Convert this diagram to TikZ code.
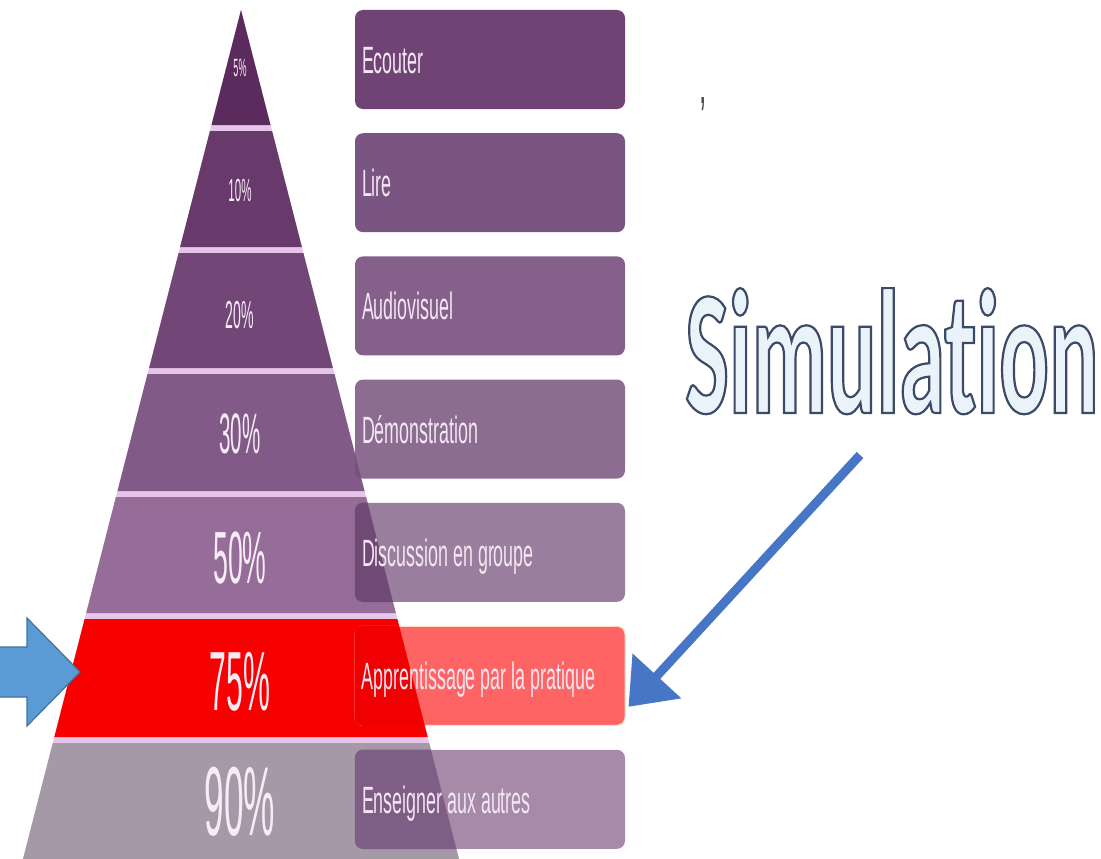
\documentclass[tikz,border=0pt]{standalone}
\usepackage{fontspec}
\usepackage{xcolor}
\usepackage{tikz}
\usetikzlibrary{arrows.meta,positioning,calc}
\newfontfamily\labelfont[FakeStretch=0.47]{Liberation Sans}
\newfontfamily\pctfont[FakeStretch=0.36]{Liberation Sans}
\newfontfamily\simfont[FakeStretch=0.52,Ligatures=NoCommon]{Carlito Bold}
\definecolor{gapline}{HTML}{E7C5E9}
\definecolor{band1}{HTML}{5B2B5E}
\definecolor{band2}{HTML}{683A6B}
\definecolor{band3}{HTML}{734678}
\definecolor{band4}{HTML}{825A88}
\definecolor{band5}{HTML}{966C98}
\definecolor{band6}{HTML}{F80000}
\definecolor{band7}{HTML}{A599A7}
\definecolor{fill1}{HTML}{6F4373}
\definecolor{fill2}{HTML}{7B5582}
\definecolor{fill3}{HTML}{84608A}
\definecolor{fill4}{HTML}{8C6C90}
\definecolor{fill5}{HTML}{9A7E9E}
\definecolor{fill6}{HTML}{FF6464}
\definecolor{fill7}{HTML}{A68AA8}
\definecolor{over4}{HTML}{7A4E80}
\definecolor{over5}{HTML}{6E4A74}
\definecolor{over6}{HTML}{F00000}
\definecolor{over7}{HTML}{7E5E84}
\definecolor{labeltext}{HTML}{F3E6F3}
\definecolor{pcttext}{HTML}{F6ECF6}
\definecolor{simfill}{HTML}{EAF2FA}
\definecolor{simblue}{HTML}{4876C6}
\definecolor{blockblue}{HTML}{5B9BD5}
\definecolor{blockline}{HTML}{41719C}
\newcommand{\outlinetext}[1]{\special{pdf:literal direct 2 Tr 2.2 w 0.235 0.29 0.40 RG}#1\special{pdf:literal direct 0 Tr}}
\tikzset{
  method/.style={rounded corners=8pt,minimum width=270pt,minimum height=99pt,inner sep=0pt},
  boxtext/.style={anchor=base west,text=labeltext,font=\labelfont\fontsize{38}{40}\selectfont,inner sep=0pt},
  pct/.style={anchor=base,text=pcttext,inner sep=0pt},
  simarrow/.style={-{Triangle[length=42pt,width=64pt]},line width=9pt,draw=simblue},
  blockarrow/.style={fill=blockblue,draw=blockline,line width=1.2pt}
}

\begin{document}
\begin{tikzpicture}[x=1pt,y=-1pt]
    \useasboundingbox (0,0) rectangle (1101,859);
    \fill[white] (0,0) rectangle (1101,859);
    \fill[gapline] (241,10) -- (459,859) -- (23,859) -- cycle;
    \fill[band1] (241,10) -- (270.5,125) -- (211.5,125) -- cycle;
    \fill[band2] (209.9,131) -- (272.1,131) -- (301.9,247) -- (180.1,247) -- cycle;
    \fill[band3] (178.6,253) -- (303.4,253) -- (332.9,368) -- (149.1,368) -- cycle;
    \fill[band4] (147.5,374) -- (334.5,374) -- (364.5,491) -- (117.5,491) -- cycle;
    \fill[band5] (115.9,497) -- (366.1,497) -- (395.8,613) -- (86.2,613) -- cycle;
    \fill[band6] (84.6,619) -- (397.4,619) -- (427.7,737) -- (54.3,737) -- cycle;
    \fill[band7] (52.8,743) -- (429.2,743) -- (459,859) -- (23,859) -- cycle;

    \node[method,fill=fill1] (box1) at (490,59.5) {};
    \node[method,fill=fill2,below=23.8pt of box1] (box2) {};
    \node[method,fill=fill3,below=23.8pt of box2] (box3) {};
    \node[method,fill=fill4,below=23.8pt of box3] (box4) {};
    \node[method,fill=fill5,below=23.8pt of box4] (box5) {};
    \node[method,fill=fill6,draw=orange!25,line width=1pt,below=23.8pt of box5] (box6) {};
    \node[method,fill=fill7,below=23.8pt of box6] (box7) {};

    \begin{scope}
      \clip[rounded corners=8pt] (box4.north west) rectangle (box4.south east);
      \fill[over4] (147.5,374) -- (334.5,374) -- (364.5,491) -- (117.5,491) -- cycle;
    \end{scope}
    \begin{scope}
      \clip[rounded corners=8pt] (box5.north west) rectangle (box5.south east);
      \fill[over5] (115.9,497) -- (366.1,497) -- (395.8,613) -- (86.2,613) -- cycle;
    \end{scope}
    \begin{scope}
      \clip[rounded corners=8pt] (box6.north west) rectangle (box6.south east);
      \fill[over6] (84.6,619) -- (397.4,619) -- (427.7,737) -- (54.3,737) -- cycle;
    \end{scope}
    \begin{scope}
      \clip[rounded corners=8pt] (box7.north west) rectangle (box7.south east);
      \fill[over7] (52.8,743) -- (429.2,743) -- (459,859) -- (23,859) -- cycle;
    \end{scope}

    \node[boxtext] (lab1) at ([xshift=7pt,yshift=-14pt]box1.west) {Ecouter};
    \node[boxtext] (lab2) at ([xshift=7pt,yshift=-14pt]box2.west) {Lire};
    \node[boxtext] (lab3) at ([xshift=7pt,yshift=-14pt]box3.west) {Audiovisuel};
    \node[boxtext] (lab4) at ([xshift=7pt,yshift=-14pt]box4.west) {Démonstration};
    \node[boxtext] (lab5) at ([xshift=7pt,yshift=-14pt]box5.west) {Discussion en groupe};
    \node[boxtext] (lab6) at ([xshift=7pt,yshift=-14pt]box6.west) {Apprentissage par la pratique};
    \node[boxtext] (lab7) at ([xshift=7pt,yshift=-14pt]box7.west) {Enseigner aux autres};

    \node[pct,font=\pctfont\fontsize{25}{25}\selectfont] (pct1) at (240,77) {5\%};
    \node[pct,font=\pctfont\fontsize{32}{32}\selectfont] (pct2) at (240,201) {10\%};
    \node[pct,font=\pctfont\fontsize{39}{39}\selectfont] (pct3) at (240,328) {20\%};
    \node[pct,font=\pctfont\fontsize{57}{57}\selectfont] (pct4) at (240,453) {30\%};
    \node[pct,font=\pctfont\fontsize{74}{74}\selectfont] (pct5) at (240,583) {50\%};
    \node[pct,font=\pctfont\fontsize{84}{84}\selectfont] (pct6) at (240,710) {75\%};
    \node[pct,font=\pctfont\fontsize{98}{98}\selectfont] (pct7) at (240,835) {90\%};

    \node[anchor=base west,inner sep=0pt,text=simfill,font=\simfont\fontsize{178}{178}\selectfont] (sim) at (685,413) {\outlinetext{Simulation}};
    \node[anchor=base,inner sep=0pt,text=black!70,font=\labelfont\fontsize{56}{56}\selectfont] (mark) at (703,103) {,};

    \coordinate (simtail) at (860,455);
    \coordinate (simtip) at ([xshift=3pt,yshift=19pt]box6.south east);
    \draw[simarrow] (simtail) -- (simtip);

    \coordinate (pointtip) at (80,672);
    \draw[blockarrow] (pointtip) -- ++(-53,-54) -- ++(0,29) -- ++(-32,0) -- ++(0,50) -- ++(32,0) -- ++(0,29) -- cycle;
  \end{tikzpicture}
\end{document}
